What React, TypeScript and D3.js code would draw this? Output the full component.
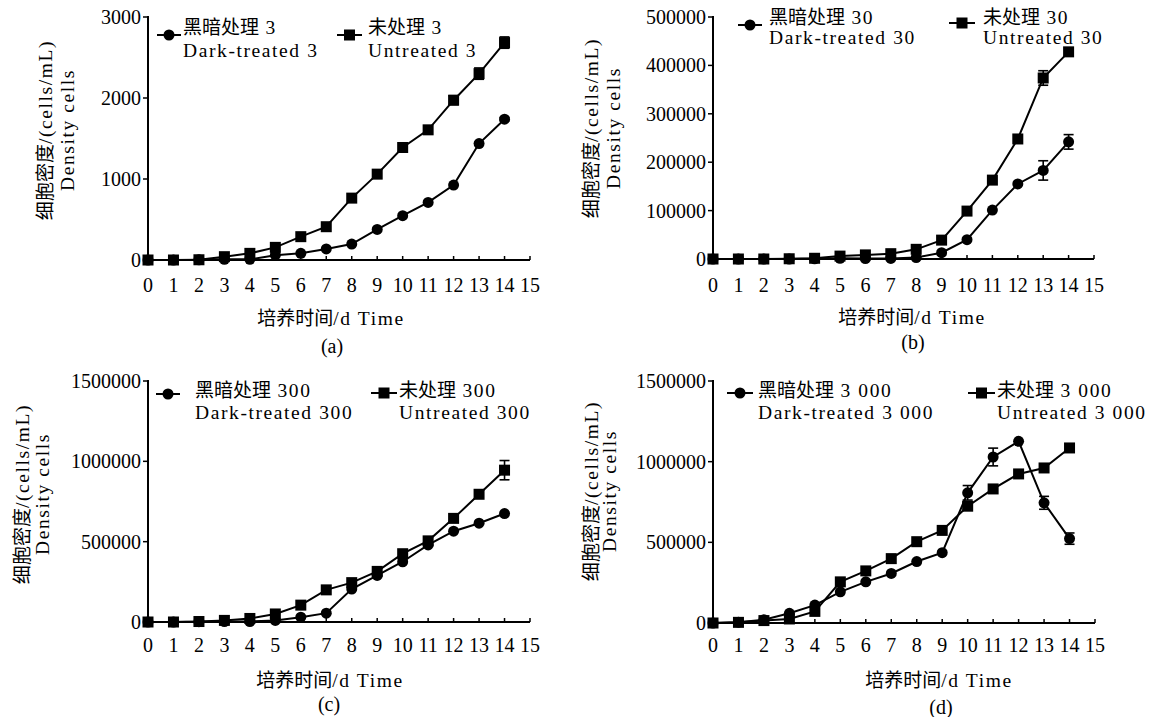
import React from "react";
import * as d3 from "d3";

// culture time (days) and axis ticks
const days = [0, 1, 2, 3, 4, 5, 6, 7, 8, 9, 10, 11, 12, 13, 14];
const xTicks = [0, 1, 2, 3, 4, 5, 6, 7, 8, 9, 10, 11, 12, 13, 14, 15];

// (a) initial density 3
const darkA = [0, 0, 3, 8, 8, 60, 82, 136, 197, 378, 547, 711, 925, 1438, 1738];
const darkAErr = [0, 0, 0, 0, 0, 0, 0, 0, 0, 0, 0, 0, 0, 0, 20];
const untreatedA = [0, 0, 3, 41, 82, 156, 288, 411, 764, 1060, 1389, 1607, 1973, 2301, 2684];
const untreatedAErr = [0, 0, 0, 0, 0, 0, 0, 0, 0, 0, 0, 0, 55, 70, 70];
const yTicksA = [0, 1000, 2000, 3000];

// (b) initial density 30
const darkB = [0, 0, 0, 0, 500, 1500, 800, 1200, 3000, 13000, 40000, 101000, 155000, 183000, 242000];
const darkBErr = [0, 0, 0, 0, 0, 0, 0, 0, 0, 0, 0, 0, 0, 20000, 15000];
const untreatedB = [0, 0, 0, 500, 1500, 6000, 8500, 11000, 20000, 39000, 99000, 163000, 248000, 374000, 428000];
const untreatedBErr = [0, 0, 0, 0, 0, 0, 0, 0, 0, 0, 0, 0, 0, 15000, 0];
const yTicksB = [0, 100000, 200000, 300000, 400000, 500000];

// (c) initial density 300
const darkC = [0, 0, 2000, 3000, 3000, 10000, 30000, 55000, 205000, 290000, 375000, 480000, 565000, 615000, 675000];
const darkCErr = [0, 0, 0, 0, 0, 0, 0, 0, 0, 0, 0, 0, 0, 0, 0];
const untreatedC = [0, 0, 3000, 10000, 22000, 50000, 105000, 200000, 245000, 315000, 425000, 505000, 645000, 795000, 945000];
const untreatedCErr = [0, 0, 0, 0, 0, 0, 0, 0, 0, 0, 0, 0, 0, 0, 60000];
const yTicksC = [0, 500000, 1000000, 1500000];

// (d) initial density 3000
const darkD = [0, 5000, 20000, 60000, 111000, 193000, 255000, 307000, 381000, 436000, 807000, 1029000, 1126000, 745000, 523000];
const darkDErr = [0, 0, 0, 0, 0, 0, 0, 0, 0, 0, 45000, 55000, 0, 40000, 35000];
const untreatedD = [0, 4000, 15000, 25000, 72000, 255000, 323000, 399000, 504000, 574000, 724000, 831000, 924000, 961000, 1085000];
const untreatedDErr = [0, 0, 0, 0, 0, 0, 0, 0, 0, 0, 25000, 0, 0, 0, 0];
const yTicksD = [0, 500000, 1000000, 1500000];

const yLabel = ["细胞密度/(cells/mL)", "Density cells"];
const xLabel = "培养时间/d Time";

const CJK = "Noto Sans CJK SC";
const SERIF = "Liberation Serif";

const panels = [
  {
    dark: darkA, darkErr: darkAErr, untreated: untreatedA, untreatedErr: untreatedAErr, yTicks: yTicksA,
    darkText: ["黑暗处理 3", "Dark-treated 3"], untreatedText: ["未处理 3", "Untreated 3"], caption: "(a)",
    box: { x0: 148, x1: 530, y0: 260, y1: 17 },
    leg: [{ lx: [157, 181], ly: 35, tx: 183, ty: [27, 50] }, { lx: [337, 362], ly: 35, tx: 368, ty: [27, 50] }],
    tickY: 285, title: [331, 318], cap: [332, 346], yl: [45, 67, 130],
  },
  {
    dark: darkB, darkErr: darkBErr, untreated: untreatedB, untreatedErr: untreatedBErr, yTicks: yTicksB,
    darkText: ["黑暗处理 30", "Dark-treated 30"], untreatedText: ["未处理 30", "Untreated 30"], caption: "(b)",
    box: { x0: 713, x1: 1094, y0: 259, y1: 17 },
    leg: [{ lx: [738, 762], ly: 25, tx: 769, ty: [17, 37] }, { lx: [949, 975], ly: 23, tx: 983, ty: [17, 37] }],
    tickY: 285, title: [912, 317], cap: [913, 342], yl: [591, 613, 128],
  },
  {
    dark: darkC, darkErr: darkCErr, untreated: untreatedC, untreatedErr: untreatedCErr, yTicks: yTicksC,
    darkText: ["黑暗处理 300", "Dark-treated 300"], untreatedText: ["未处理 300", "Untreated 300"], caption: "(c)",
    box: { x0: 148, x1: 530, y0: 622, y1: 381 },
    leg: [{ lx: [156, 180], ly: 394, tx: 195, ty: [390, 412] }, { lx: [371, 397], ly: 393, tx: 399, ty: [390, 412] }],
    tickY: 645, title: [330, 680], cap: [329, 704], yl: [22, 42, 494],
  },
  {
    dark: darkD, darkErr: darkDErr, untreated: untreatedD, untreatedErr: untreatedDErr, yTicks: yTicksD,
    darkText: ["黑暗处理 3 000", "Dark-treated 3 000"], untreatedText: ["未处理 3 000", "Untreated 3 000"], caption: "(d)",
    box: { x0: 713, x1: 1095, y0: 623, y1: 381 },
    leg: [{ lx: [727, 753], ly: 393, tx: 758, ty: [390, 412] }, { lx: [968, 995], ly: 393, tx: 997, ty: [390, 412] }],
    tickY: 645, title: [939, 680], cap: [941, 707], yl: [591, 609, 491],
  },
];

// split text into CJK / latin runs so each gets its own font; y is the visual middle
function MixedText({ x, y, text, anchor = "start", transform }: any) {
  const runs = text.match(/[\u3000-\u9fff\uff00-\uffef]+|[^\u3000-\u9fff\uff00-\uffef]+/g) || [];
  return (
    <text x={x} y={y + 6.5} textAnchor={anchor} transform={transform} fill="#000">
      {runs.map((r: string, i: number) =>
        /[\u3000-\u9fff]/.test(r) ? (
          <tspan key={i} fontFamily={CJK} fontSize={19}>{r}</tspan>
        ) : (
          <tspan key={i} fontFamily={SERIF} fontSize={19.5} letterSpacing={1.6} style={{ whiteSpace: "pre" }}>{r}</tspan>
        )
      )}
    </text>
  );
}

function Marker({ kind, x, y }: any) {
  if (kind === "circle") return <circle cx={x} cy={y} r={5.5} fill="#000" />;
  return <rect x={x - 5.5} y={y - 5.5} width={11} height={11} fill="#000" />;
}

function Series({ values, errs, kind, xs, ys }: any) {
  const line = d3.line<number>().x((d, i) => xs(days[i])).y((d) => ys(d));
  return (
    <g>
      <path d={line(values) || ""} fill="none" stroke="#000" strokeWidth={2} />
      {values.map((v: number, i: number) =>
        errs[i] > 0 ? (
          <g key={"e" + i} stroke="#000" strokeWidth={1.6}>
            <line x1={xs(days[i])} x2={xs(days[i])} y1={ys(v - errs[i])} y2={ys(v + errs[i])} />
            <line x1={xs(days[i]) - 5} x2={xs(days[i]) + 5} y1={ys(v - errs[i])} y2={ys(v - errs[i])} />
            <line x1={xs(days[i]) - 5} x2={xs(days[i]) + 5} y1={ys(v + errs[i])} y2={ys(v + errs[i])} />
          </g>
        ) : null
      )}
      {values.map((v: number, i: number) => (
        <Marker key={i} kind={kind} x={xs(days[i])} y={ys(v)} />
      ))}
    </g>
  );
}

function Panel({ p }: any) {
  const { x0, x1, y0, y1 } = p.box;
  const xs = d3.scaleLinear().domain([0, 15]).range([x0, x1]);
  const ys = d3.scaleLinear().domain([0, p.yTicks[p.yTicks.length - 1]]).range([y0, y1]);
  const legends = [
    { kind: "circle", text: p.darkText, l: p.leg[0] },
    { kind: "square", text: p.untreatedText, l: p.leg[1] },
  ];
  return (
    <g>
      {/* axes */}
      <line x1={x0} x2={x0} y1={ys(p.yTicks[p.yTicks.length - 1]) - 1} y2={y0} stroke="#000" strokeWidth={2} />
      <line x1={x0} x2={x1} y1={y0} y2={y0} stroke="#000" strokeWidth={2} />
      {xTicks.map((t) => (
        <g key={"xt" + t}>
          <line x1={xs(t)} x2={xs(t)} y1={y0} y2={y0 - 4} stroke="#000" strokeWidth={1.5} />
          <text x={xs(t)} y={p.tickY + 7} textAnchor="middle" fontFamily={SERIF} fontSize={20}>
            {t}
          </text>
        </g>
      ))}
      {p.yTicks.map((t: number) => (
        <g key={"yt" + t}>
          <line x1={x0 - 5} x2={x0} y1={ys(t)} y2={ys(t)} stroke="#000" strokeWidth={1.5} />
          <text x={x0 - 7} y={ys(t) + 7} textAnchor="end" fontFamily={SERIF} fontSize={20}>
            {t}
          </text>
        </g>
      ))}

      <Series values={p.untreated} errs={p.untreatedErr} kind="square" xs={xs} ys={ys} />
      <Series values={p.dark} errs={p.darkErr} kind="circle" xs={xs} ys={ys} />

      {/* legend */}
      {legends.map((lg, i) => (
        <g key={"lg" + i}>
          <line x1={lg.l.lx[0]} x2={lg.l.lx[1]} y1={lg.l.ly} y2={lg.l.ly} stroke="#000" strokeWidth={2} />
          <Marker kind={lg.kind} x={(lg.l.lx[0] + lg.l.lx[1]) / 2} y={lg.l.ly} />
          <MixedText x={lg.l.tx} y={lg.l.ty[0]} text={lg.text[0]} />
          <MixedText x={lg.l.tx} y={lg.l.ty[1]} text={lg.text[1]} />
        </g>
      ))}

      {/* axis titles */}
      <MixedText x={p.title[0]} y={p.title[1]} text={xLabel} anchor="middle" />
      <text x={p.cap[0]} y={p.cap[1] + 7} textAnchor="middle" fontFamily={SERIF} fontSize={20}>
        {p.caption}
      </text>
      <MixedText x={0} y={0} text={yLabel[0]} anchor="middle" transform={`translate(${p.yl[0]},${p.yl[2]}) rotate(-90)`} />
      <MixedText x={0} y={0} text={yLabel[1]} anchor="middle" transform={`translate(${p.yl[1]},${p.yl[2]}) rotate(-90)`} />
    </g>
  );
}

export default function App() {
  return (
    <svg
      width={1164}
      height={717}
      style={{ position: "absolute", left: 0, top: 0, background: "#fff" }}
    >
      {panels.map((p, i) => (
        <Panel key={i} p={p} />
      ))}
    </svg>
  );
}
